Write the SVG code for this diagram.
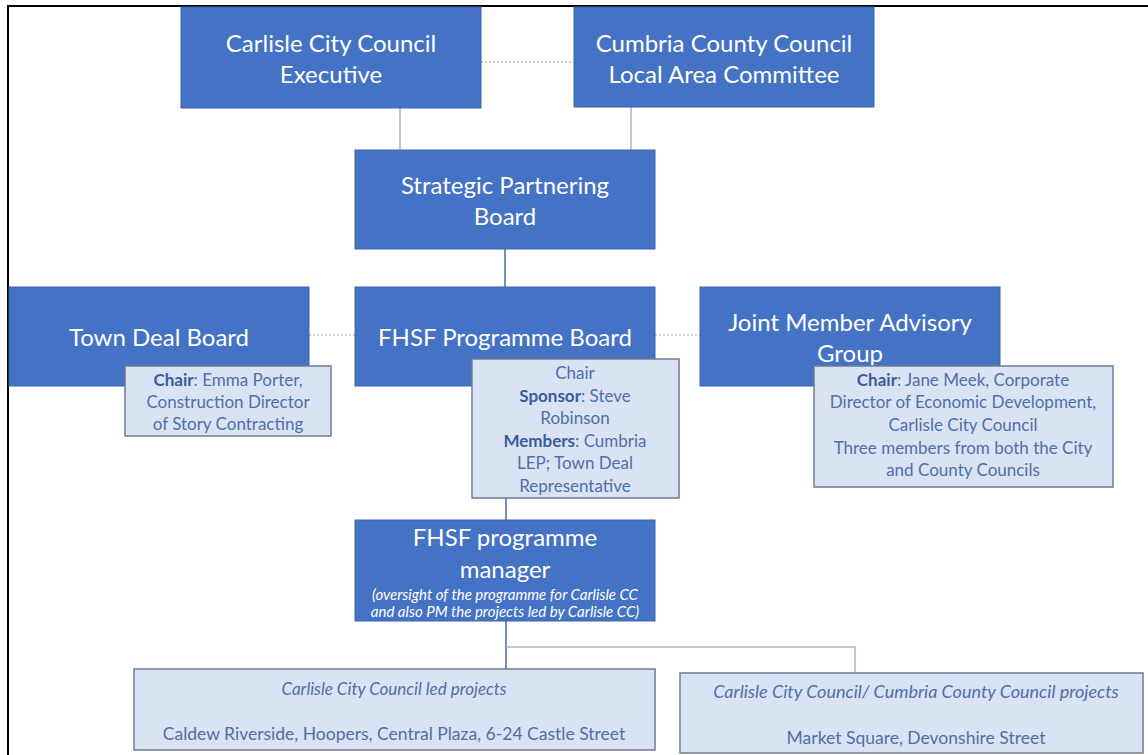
<svg xmlns="http://www.w3.org/2000/svg" width="1148" height="755" viewBox="0 0 1148 755">
  <style>
    .box { fill: #4472C4; stroke: #3A64AE; stroke-width: 1; }
    .note { fill: #DAE3F3; stroke: #6F7C93; stroke-width: 1.5; }
    .t { font-family: Lato, "Open Sans", sans-serif; fill: #FFFFFF; font-size: 24px; text-anchor: middle; }
    .ti { font-family: Lato, "Open Sans", sans-serif; fill: #FFFFFF; font-size: 15px; font-style: italic; text-anchor: middle; }
    .n { font-family: Lato, "Open Sans", sans-serif; fill: #4F6FA8; font-size: 17px; text-anchor: middle; }
    .ni { font-family: Lato, "Open Sans", sans-serif; fill: #4F6FA8; font-size: 17px; font-style: italic; text-anchor: middle; }
    .big { font-size: 17.5px; }
    .bigi { font-size: 18px; }
    .b { font-weight: bold; fill: #3A5C9E; }
    .lite { stroke: #A9B6D0; stroke-width: 1.5; fill: none; }
    .dark { stroke: #4A6BA8; stroke-width: 1.5; fill: none; }
    .dot { stroke: #A6A6A6; stroke-width: 1; stroke-dasharray: 2 2; fill: none; }
  </style>

  <!-- page frame -->
  <path d="M8,755 V6 H1148" fill="none" stroke="#000" stroke-width="2"/>

  <!-- connectors -->
  <g id="connectors">
    <line class="dot" x1="481" y1="62" x2="574" y2="62"/>
    <line class="lite" x1="400" y1="108" x2="400" y2="150"/>
    <line class="lite" x1="631" y1="107" x2="631" y2="150"/>
    <line class="dark" x1="505" y1="249" x2="505" y2="287"/>
    <line class="dot" x1="309" y1="335" x2="355" y2="335"/>
    <line class="dot" x1="655" y1="335" x2="700" y2="335"/>
    <line class="dark" x1="506" y1="498" x2="506" y2="520"/>
    <polyline class="dark" points="506,621 506,669"/>
    <polyline class="lite" points="506,647 855,647 855,673"/>
  </g>

  <g id="carlisle-executive">
    <rect class="box" x="181" y="7" width="300" height="101"/>
    <text class="t" x="331" y="52">Carlisle City Council</text>
    <text class="t" x="331" y="83">Executive</text>
  </g>

  <g id="cumbria-lac">
    <rect class="box" x="574" y="7" width="300" height="100"/>
    <text class="t" x="724" y="52">Cumbria County Council</text>
    <text class="t" x="724" y="83">Local Area Committee</text>
  </g>

  <g id="strategic-board">
    <rect class="box" x="355" y="150" width="300" height="99"/>
    <text class="t" x="505" y="194">Strategic Partnering</text>
    <text class="t" x="505" y="225">Board</text>
  </g>

  <g id="town-deal-board">
    <rect class="box" x="9" y="287" width="300" height="99"/>
    <text class="t" x="159" y="346">Town Deal Board</text>
  </g>

  <g id="fhsf-board">
    <rect class="box" x="355" y="287" width="300" height="99"/>
    <text class="t" x="505" y="346">FHSF Programme Board</text>
  </g>

  <g id="jmag">
    <rect class="box" x="700" y="287" width="300" height="99"/>
    <text class="t" x="850" y="331">Joint Member Advisory</text>
    <text class="t" x="850" y="362">Group</text>
  </g>

  <g id="town-deal-note">
    <rect class="note" x="125" y="366" width="206" height="70"/>
    <text class="n" x="228" y="386"><tspan class="b">Chair</tspan>: Emma Porter,</text>
    <text class="n" x="228" y="408">Construction Director</text>
    <text class="n" x="228" y="430">of Story Contracting</text>
  </g>

  <g id="fhsf-note">
    <rect class="note" x="472" y="359" width="207" height="139"/>
    <text class="n" x="575" y="379">Chair</text>
    <text class="n" x="575" y="402"><tspan class="b">Sponsor</tspan>: Steve</text>
    <text class="n" x="575" y="424">Robinson</text>
    <text class="n" x="575" y="447"><tspan class="b">Members</tspan>: Cumbria</text>
    <text class="n" x="575" y="469">LEP; Town Deal</text>
    <text class="n" x="575" y="492">Representative</text>
  </g>

  <g id="jmag-note">
    <rect class="note" x="814" y="366" width="299" height="121"/>
    <text class="n" x="963" y="386"><tspan class="b">Chair</tspan>: Jane Meek, Corporate</text>
    <text class="n" x="963" y="408">Director of Economic Development,</text>
    <text class="n" x="963" y="431">Carlisle City Council</text>
    <text class="n" x="963" y="454">Three members from both the City</text>
    <text class="n" x="963" y="476">and County Councils</text>
  </g>

  <g id="programme-manager">
    <rect class="box" x="355" y="520" width="300" height="101"/>
    <text class="t" x="505" y="546">FHSF programme</text>
    <text class="t" x="505" y="578">manager</text>
    <text class="ti" x="505" y="600">(oversight of the programme for Carlisle CC</text>
    <text class="ti" x="505" y="617">and also PM the projects led by Carlisle CC)</text>
  </g>

  <g id="city-projects">
    <rect class="note" x="134" y="669" width="521" height="81"/>
    <text class="ni" x="394" y="695">Carlisle City Council led projects</text>
    <text class="n big" x="394" y="740">Caldew Riverside, Hoopers, Central Plaza, 6-24 Castle Street</text>
  </g>

  <g id="joint-projects">
    <rect class="note" x="680" y="673" width="463" height="80"/>
    <text class="ni bigi" x="916" y="698">Carlisle City Council/ Cumbria County Council projects</text>
    <text class="n big" x="916" y="744">Market Square, Devonshire Street</text>
  </g>
</svg>
